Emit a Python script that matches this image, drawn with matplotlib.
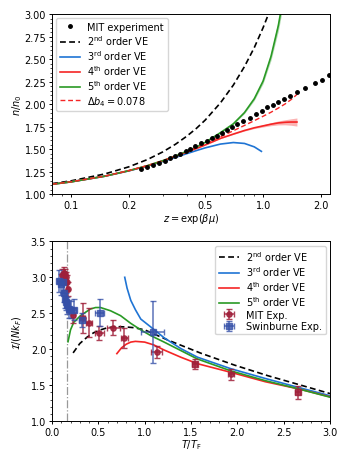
import numpy as np
import matplotlib
matplotlib.use("Agg")
import matplotlib.pyplot as plt
from matplotlib.ticker import FixedLocator, FixedFormatter, NullFormatter, MultipleLocator

plt.rcParams['font.family'] = ['DejaVu Sans']
plt.rcParams['mathtext.fontset'] = 'dejavusans'

# ---------------- top panel data ----------------
mit_z = [0.232, 0.25, 0.268, 0.288, 0.309, 0.328, 0.348, 0.37, 0.397, 0.415, 0.443, 0.476, 0.509,
         0.541, 0.574, 0.61, 0.647, 0.687, 0.734, 0.79, 0.85, 0.92, 0.984, 1.045, 1.12, 1.19,
         1.29, 1.38, 1.50, 1.655, 1.87, 2.03, 2.21]
mit_n = [1.278, 1.296, 1.322, 1.344, 1.37, 1.396, 1.419, 1.444, 1.474, 1.50, 1.53, 1.563, 1.592,
         1.622, 1.648, 1.678, 1.711, 1.741, 1.778, 1.808, 1.848, 1.889, 1.926, 1.963, 1.992, 2.026,
         2.056, 2.092, 2.13, 2.174, 2.233, 2.27, 2.318]

ve2_z = [0.08, 0.1, 0.15, 0.2, 0.25, 0.3, 0.35, 0.4, 0.45, 0.5, 0.6, 0.7, 0.8, 0.9, 1.0, 1.07]
ve2_n = [1.116, 1.146, 1.223, 1.302, 1.383, 1.467, 1.553, 1.641, 1.730, 1.822, 2.013, 2.210,
         2.416, 2.627, 2.848, 3.006]

ve3_z = [0.08, 0.1, 0.15, 0.2, 0.25, 0.3, 0.35, 0.4, 0.45, 0.5, 0.6, 0.7, 0.8, 0.9, 0.98]
ve3_n = [1.109, 1.135, 1.198, 1.257, 1.311, 1.361, 1.407, 1.448, 1.483, 1.513, 1.555, 1.572,
         1.562, 1.524, 1.474]

ve4_z = [0.08, 0.1, 0.15, 0.2, 0.25, 0.3, 0.35, 0.4, 0.45, 0.5, 0.6, 0.7, 0.8, 0.9, 1.0,
         1.1, 1.2, 1.3, 1.4, 1.5]
ve4_n = [1.109, 1.135, 1.198, 1.259, 1.314, 1.367, 1.417, 1.464, 1.506, 1.545, 1.618, 1.666,
         1.706, 1.736, 1.757, 1.776, 1.790, 1.797, 1.800, 1.800]
ve4_err = [0, 0, 0, 0, 0, 0, 0, 0.0005, 0.001, 0.0014, 0.0024, 0.0038, 0.006, 0.0087, 0.0123,
           0.0166, 0.022, 0.028, 0.036, 0.045]

ve5_z = [0.08, 0.1, 0.15, 0.2, 0.25, 0.3, 0.35, 0.4, 0.45, 0.5, 0.6, 0.7, 0.8, 0.9, 1.0,
         1.1, 1.2, 1.25]
ve5_n = [1.109, 1.135, 1.198, 1.259, 1.315, 1.370, 1.422, 1.475, 1.522, 1.574, 1.682, 1.780,
         1.905, 2.059, 2.255, 2.53, 2.87, 3.08]
ve5_err = [0, 0, 0, 0, 0, 0, 0, 0.0004, 0.0008, 0.0015, 0.0033, 0.0063, 0.0109, 0.0179, 0.0278,
           0.0416, 0.060, 0.071]

db4_z = [0.08, 0.1, 0.15, 0.2, 0.25, 0.3, 0.35, 0.4, 0.45, 0.5, 0.6, 0.7, 0.8, 0.9, 1.0,
         1.1, 1.2, 1.3, 1.4, 1.5]
db4_n = [1.109, 1.136, 1.199, 1.260, 1.316, 1.370, 1.422, 1.471, 1.516, 1.558, 1.635, 1.703,
         1.762, 1.815, 1.864, 1.909, 1.955, 2.000, 2.050, 2.106]

# ---------------- bottom panel data ----------------
b2_T = [0.228, 0.30, 0.38, 0.45, 0.524, 0.6, 0.687, 0.8, 0.885, 1.0, 1.247, 1.61, 1.97, 2.33, 2.69, 3.0]
b2_I = [1.95, 2.08, 2.17, 2.23, 2.27, 2.30, 2.315, 2.31, 2.30, 2.27, 2.13, 1.944, 1.78, 1.633, 1.50, 1.385]

b3_T = [0.785, 0.81, 0.85, 0.9, 0.958, 1.066, 1.21, 1.39, 1.57, 1.93, 2.30, 2.66, 3.0]
b3_I = [3.0, 2.85, 2.68, 2.55, 2.42, 2.31, 2.16, 2.01, 1.89, 1.73, 1.595, 1.47, 1.355]

b4_T = [0.70, 0.75, 0.8, 0.85, 0.9, 1.0, 1.1, 1.21, 1.39, 1.57, 1.93, 2.30, 2.66, 3.0]
b4_I = [1.94, 2.02, 2.07, 2.10, 2.11, 2.10, 2.06, 1.99, 1.89, 1.80, 1.68, 1.55, 1.45, 1.34]

b5_T = [0.173, 0.2, 0.235, 0.307, 0.415, 0.47, 0.524, 0.632, 0.74, 0.85, 0.958, 1.066, 1.21,
        1.57, 1.93, 2.30, 2.66, 3.0]
b5_I = [2.105, 2.27, 2.375, 2.467, 2.56, 2.58, 2.58, 2.535, 2.467, 2.36, 2.27, 2.19, 2.10,
        1.865, 1.70, 1.565, 1.45, 1.335]

Tc = 0.167

mitx_T = [0.11, 0.125, 0.14, 0.15, 0.16, 0.17, 0.23, 0.33, 0.40, 0.51, 0.66, 0.78, 1.13, 1.93]
mitx_I = [3.03, 3.06, 3.04, 3.00, 2.93, 2.84, 2.47, 2.43, 2.37, 2.23, 2.30, 2.16, 1.96, 1.65]
mitx_dI = [0.08, 0.08, 0.08, 0.08, 0.1, 0.1, 0.1, 0.21, 0.2, 0.1, 0.1, 0.14, 0.08, 0.07]
mitx_dT = [0.01, 0.01, 0.01, 0.01, 0.01, 0.01, 0.02, 0.03, 0.03, 0.05, 0.07, 0.04, 0.06, 0.03]

mits_T = [1.54, 2.65]
mits_I = [1.79, 1.40]
mits_dI = [0.07, 0.09]
mits_dT = [0.03, 0.03]

swin_T = [0.072, 0.10, 0.119, 0.13, 0.144, 0.155, 0.163, 0.18, 0.2, 0.234, 0.325, 0.516, 1.085]
swin_I = [2.95, 2.90, 2.93, 2.78, 2.70, 2.66, 2.61, 2.56, 2.55, 2.55, 2.41, 2.51, 2.24]
swin_dI = [0.15, 0.15, 0.15, 0.12, 0.12, 0.12, 0.12, 0.12, 0.12, 0.15, 0.1, 0.19, 0.43]
swin_dT = [0.02, 0.02, 0.02, 0.02, 0.02, 0.02, 0.02, 0.02, 0.02, 0.03, 0.03, 0.05, 0.12]

C_BLUE = '#1f74d4'
C_RED = '#f52525'
C_GREEN = '#2a9a25'
C_MIT = '#a0203a'
C_SWIN = '#3550a8'

fig = plt.figure(figsize=(3.48, 4.64), dpi=100)
FS = 7
LW = 1.2

def style_axes(ax):
    ax.tick_params(labelsize=FS, length=2.2, width=0.7, pad=2)
    ax.tick_params(which='minor', length=1.2, width=0.5)
    for s in ax.spines.values():
        s.set_linewidth(0.7)

LEG = dict(fontsize=FS, handlelength=2.1, borderpad=0.35, labelspacing=0.14,
           handletextpad=0.75, borderaxespad=0.45)

# ---------------- top axes ----------------
ax1 = fig.add_axes([0.1494, 0.5797, 0.7989, 0.3879])
ax1.set_xscale('log')
ax1.plot(mit_z, mit_n, 'o', color='black', ms=2.5, label='MIT experiment', zorder=5)
ax1.plot(ve2_z, ve2_n, '--', color='black', lw=LW, dashes=(3.5, 2), label=r'2$^{\rm nd}$ order VE')
ax1.plot(ve3_z, ve3_n, '-', color=C_BLUE, lw=LW, label=r'3$^{\rm rd}$ order VE')
n4 = np.array(ve4_n); e4 = np.array(ve4_err)
ax1.fill_between(ve4_z, n4 - e4, n4 + e4, color=C_RED, alpha=0.35, lw=0)
ax1.plot(ve4_z, ve4_n, '-', color=C_RED, lw=LW, label=r'4$^{\rm th}$ order VE')
n5 = np.array(ve5_n); e5 = np.array(ve5_err)
ax1.fill_between(ve5_z, n5 - e5, n5 + e5, color=C_GREEN, alpha=0.35, lw=0)
ax1.plot(ve5_z, ve5_n, '-', color=C_GREEN, lw=LW, label=r'5$^{\rm th}$ order VE')
ax1.plot(db4_z, db4_n, '--', color=C_RED, lw=1.0, dashes=(3.5, 2), label=r'$\Delta b_4 = 0.078$')
ax1.set_xlim(0.0797, 2.23)
ax1.set_ylim(1.0, 3.0)
ax1.xaxis.set_major_locator(FixedLocator([0.1, 0.2, 0.5, 1.0, 2.0]))
ax1.xaxis.set_major_formatter(FixedFormatter(['0.1', '0.2', '0.5', '1.0', '2.0']))
ax1.xaxis.set_minor_locator(FixedLocator([0.08, 0.09, 0.3, 0.4, 0.6, 0.7, 0.8, 0.9]))
ax1.xaxis.set_minor_formatter(NullFormatter())
ax1.set_yticks([1.0, 1.25, 1.5, 1.75, 2.0, 2.25, 2.5, 2.75, 3.0])
ax1.set_yticklabels(['1.00', '1.25', '1.50', '1.75', '2.00', '2.25', '2.50', '2.75', '3.00'])
ax1.yaxis.set_minor_locator(MultipleLocator(0.05))
style_axes(ax1)
ax1.set_xlabel(r'$z = \exp(\beta\mu)$', fontsize=FS, labelpad=0.5)
ax1.set_ylabel(r'$n/n_0$', fontsize=FS)
ax1.yaxis.set_label_coords(-0.102, 0.5)
ax1.legend(loc='upper left', **LEG)

# ---------------- bottom axes ----------------
ax2 = fig.add_axes([0.1494, 0.0899, 0.7989, 0.3879])
ax2.axvline(Tc, color='#999999', ls='-.', lw=0.9, zorder=1)
ax2.plot(b2_T, b2_I, '--', color='black', lw=LW, dashes=(3.5, 2), label=r'2$^{\rm nd}$ order VE', zorder=3)
ax2.plot(b3_T, b3_I, '-', color=C_BLUE, lw=LW, label=r'3$^{\rm rd}$ order VE', zorder=3)
ax2.plot(b4_T, b4_I, '-', color=C_RED, lw=LW, label=r'4$^{\rm th}$ order VE', zorder=3)
ax2.plot(b5_T, b5_I, '-', color=C_GREEN, lw=LW, label=r'5$^{\rm th}$ order VE', zorder=3)
ax2.errorbar(mitx_T, mitx_I, yerr=mitx_dI, xerr=mitx_dT, fmt='o', color=C_MIT, ms=3.8,
             elinewidth=1.1, capsize=2.5, ecolor=C_MIT, alpha=0.85, label='MIT Exp.', zorder=4)
ax2.errorbar(mits_T, mits_I, yerr=mits_dI, xerr=mits_dT, fmt='s', color=C_MIT, ms=3.8,
             elinewidth=1.1, capsize=2.5, ecolor=C_MIT, alpha=0.85, zorder=4)
ax2.errorbar(swin_T, swin_I, yerr=swin_dI, xerr=swin_dT, fmt='s', color=C_SWIN, ms=3.8,
             elinewidth=1.1, capsize=2.5, ecolor=C_SWIN, alpha=0.8, label='Swinburne Exp.', zorder=4)
ax2.set_xlim(0, 3.0)
ax2.set_ylim(1.0, 3.5)
ax2.xaxis.set_major_locator(MultipleLocator(0.5))
ax2.xaxis.set_minor_locator(MultipleLocator(0.1))
ax2.yaxis.set_major_locator(MultipleLocator(0.5))
ax2.yaxis.set_minor_locator(MultipleLocator(0.1))
style_axes(ax2)
ax2.set_xlabel(r'$T/T_{\rm F}$', fontsize=FS, labelpad=0)
ax2.set_ylabel(r'$\mathcal{I}/(Nk_F)$', fontsize=FS)
ax2.yaxis.set_label_coords(-0.102, 0.5)
ax2.legend(loc='upper right', **LEG)

fig.savefig('out.png', dpi=100)
